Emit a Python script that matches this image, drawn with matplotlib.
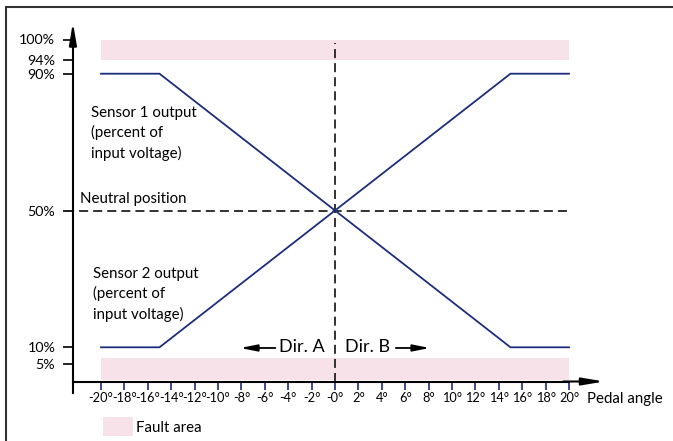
import numpy as np
import matplotlib
matplotlib.use('Agg')
import matplotlib.pyplot as plt
from matplotlib.patches import Patch

plt.rcParams['font.family'] = ['Lato', 'DejaVu Sans']

# Data
angles = [-20, -15, 15, 20]                 # pedal angle (deg)
sensor1 = [90, 90, 10, 10]                  # percent of input voltage
sensor2 = [10, 10, 90, 90]
xticks = np.arange(-20, 21, 2)
xticklabels = ['%d°' % t if t != 0 else '-0°' for t in xticks]
yticks = [5, 10, 50, 90, 94, 100]
yticklabels = ['5%', '10%', '50%', '90%', '94%', '100%']
fault_high = (94, 100)
fault_low = (0.5, 7)
neutral = 50

navy = '#1c2d7c'
pink = '#f6e2e8'

fig = plt.figure(figsize=(6.73, 4.41), dpi=100)
ax = fig.add_axes([0, 0, 1, 1])
# pixel mapping: x=0 -> 335px, 11.7 px/deg ; y=50 -> 210.5px, 3.42 px/%
ax.set_xlim(-335 / 11.7, (673 - 335) / 11.7)
ax.set_ylim(50 - (441 - 210.5) / 3.42, 50 + 210.5 / 3.42)

yax = -22.4   # position of the y axis in data units

# fault areas
ax.fill_between([-20, 20], fault_high[0], fault_high[1], color=pink, lw=0)
ax.fill_between([-20, 20], fault_low[0], fault_low[1], color=pink, lw=0)

# neutral position and 0 deg lines
ax.plot([-23.1, 20], [neutral, neutral], color='#222222', lw=1.3, dashes=(5, 2.8))
ax.plot([0, 0], [0, 99], color='#222222', lw=1.3, dashes=(5, 2.8))

# sensor outputs
ax.plot(angles, sensor1, color=navy, lw=1.3)
ax.plot(angles, sensor2, color=navy, lw=1.3)

# axes
for s in ['top', 'right']:
    ax.spines[s].set_visible(False)
ax.spines['left'].set_position(('data', yax))
ax.spines['bottom'].set_position(('data', 0))
ax.spines['left'].set_bounds(-3.5, 100)
ax.spines['bottom'].set_bounds(yax, 20)
ax.spines['left'].set_linewidth(1.5)
ax.spines['bottom'].set_linewidth(1.5)

ax.set_xticks(xticks)
ax.set_xticklabels(xticklabels)
ax.set_yticks(yticks)
ax.set_yticklabels(yticklabels)
ax.tick_params(axis='x', direction='out', length=5.5, width=1.2, color=navy,
               labelsize=9.2, pad=2)
ax.tick_params(axis='y', direction='out', length=7.2, width=1.2, color='black',
               labelsize=10.3, pad=5.5)

# arrow heads
ax.annotate('', xy=(yax, 105), xytext=(yax, 98),
            arrowprops=dict(arrowstyle='-|>,head_width=0.22,head_length=1.3',
                            color='black', lw=1.5, shrinkA=0, shrinkB=0))
ax.annotate('', xy=(23.0, 0), xytext=(19.5, 0),
            arrowprops=dict(arrowstyle='-|>,head_width=0.22,head_length=1.3',
                            color='black', lw=1.5, shrinkA=0, shrinkB=0))

# labels
ax.text(-21.8, 51.3, 'Neutral position', fontsize=10.8, ha='left', va='bottom')
ax.text(-20.85, 80.6, 'Sensor 1 output\n(percent of\ninput voltage)',
        fontsize=10.8, ha='left', va='top', linespacing=1.45)
ax.text(-20.7, 33.5, 'Sensor 2 output\n(percent of\ninput voltage)',
        fontsize=10.8, ha='left', va='top', linespacing=1.45)
ax.text(21.5, -5.1, 'Pedal angle', fontsize=10.8, ha='left', va='center')

ax.text(-2.8, 10.0, 'Dir. A', fontsize=13, ha='center', va='center')
ax.text(2.8, 10.0, 'Dir. B', fontsize=13, ha='center', va='center')
ax.annotate('', xy=(-8.1, 9.8), xytext=(-5.1, 9.8),
            arrowprops=dict(arrowstyle='-|>,head_width=0.2,head_length=1.0',
                            color='black', lw=1.3, shrinkA=0, shrinkB=0))
ax.annotate('', xy=(8.1, 9.8), xytext=(5.2, 9.8),
            arrowprops=dict(arrowstyle='-|>,head_width=0.2,head_length=1.0',
                            color='black', lw=1.3, shrinkA=0, shrinkB=0))

# legend
ax.legend(handles=[Patch(facecolor=pink, edgecolor='none', label='Fault area')],
          loc='lower left', bbox_to_anchor=(103 / 673, 5 / 441),
          frameon=False, fontsize=10.8, handlelength=2.0, handleheight=1.55,
          handletextpad=0.2, borderpad=0, borderaxespad=0)

# outer frame (only top and left visible)
fig.add_artist(plt.Rectangle((6 / 673, -0.5), 2, 0.5 + (441 - 7) / 441,
                             transform=fig.transFigure, fill=False,
                             lw=1.5, ec='#333333'))

fig.savefig('out.png', dpi=100)
